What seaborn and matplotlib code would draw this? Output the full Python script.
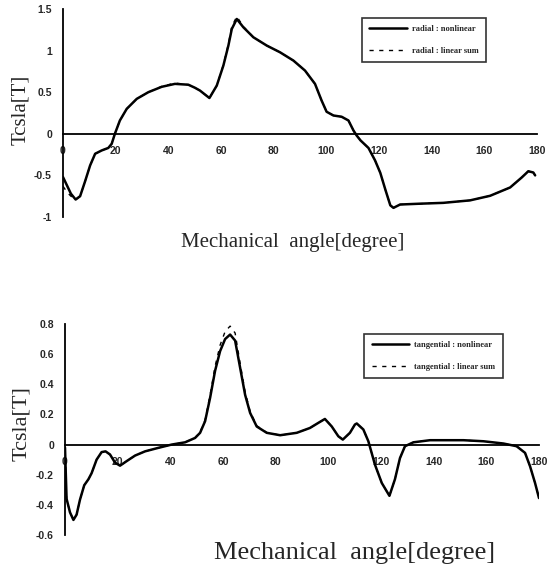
import numpy as np
import pandas as pd
import matplotlib
matplotlib.use("Agg")
import matplotlib.pyplot as plt
import seaborn as sns

# ---------------- data ----------------
radial_deg = [0, 1.5, 3.0, 4.8, 6.5, 8.4, 10.3, 12.2, 14.7, 17.2, 18.5, 19.7, 21.6, 24.2,
              28, 32.4, 37.5, 42.5, 47.6, 50, 52, 55.6, 58.4, 60.9, 62.8, 64.1, 66, 68.5,
              72.3, 77.4, 82.4, 87.5, 91.9, 95.7, 98.2, 100.1, 102.7, 105.8, 108.4, 110.3,
              111.5, 113, 116, 118.5, 120.5, 122.5, 124.3, 125.5, 128, 135.6, 144.4, 154.6,
              162.2, 169.8, 174.2, 176.7, 178.6, 179.3]
radial_nonlinear = [-0.52, -0.62, -0.72, -0.79, -0.75, -0.57, -0.38, -0.24, -0.20, -0.17, -0.12,
                    0.0, 0.16, 0.30, 0.42, 0.50, 0.565, 0.60, 0.59, 0.555, 0.52, 0.43, 0.58,
                    0.82, 1.06, 1.26, 1.38, 1.28, 1.16, 1.06, 0.98, 0.88, 0.76, 0.60, 0.40,
                    0.265, 0.22, 0.205, 0.16, 0.04, -0.02, -0.08, -0.17, -0.32, -0.47, -0.68,
                    -0.86, -0.89, -0.85, -0.84, -0.83, -0.80, -0.745, -0.645, -0.525, -0.45,
                    -0.465, -0.50]
radial_linear = [-0.63, -0.70, -0.75, -0.79, -0.75, -0.57, -0.38, -0.24, -0.20, -0.17, -0.12,
                 0.0, 0.16, 0.30, 0.42, 0.50, 0.57, 0.61, 0.59, 0.555, 0.52, 0.43, 0.58,
                 0.83, 1.08, 1.29, 1.41, 1.29, 1.16, 1.06, 0.98, 0.88, 0.76, 0.60, 0.40,
                 0.265, 0.22, 0.205, 0.16, 0.04, -0.02, -0.08, -0.17, -0.32, -0.47, -0.68,
                 -0.86, -0.89, -0.85, -0.84, -0.83, -0.80, -0.745, -0.645, -0.525, -0.45,
                 -0.465, -0.50]

tang_deg = [0, 0.6, 1.9, 3.2, 4.4, 5.7, 7.3, 8.9, 10.1, 12, 13.9, 15.4, 17.1, 19, 20.9, 23.4,
            26.6, 30.4, 35.4, 40.5, 45.6, 49.4, 51.3, 53.2, 55.1, 57, 58.9, 60.8, 62.7, 64.6,
            66.5, 68.4, 70.3, 72.8, 76.6, 81.7, 88, 93, 96.2, 98.7, 101.3, 103.8, 105.5,
            108.2, 110.1, 110.8, 113.3, 115.2, 117.7, 120.3, 123.2, 125.3, 127.2, 129.1,
            132.3, 138.6, 151.3, 158.9, 166.5, 171.5, 174.7, 176.6, 178.5, 180]
tang_nonlinear = [-0.02, -0.36, -0.45, -0.50, -0.465, -0.365, -0.27, -0.23, -0.19, -0.10, -0.05,
                  -0.045, -0.066, -0.12, -0.14, -0.11, -0.073, -0.045, -0.022, 0.0, 0.015,
                  0.044, 0.078, 0.155, 0.31, 0.49, 0.62, 0.70, 0.73, 0.69, 0.51, 0.33, 0.21,
                  0.12, 0.078, 0.062, 0.078, 0.11, 0.144, 0.17, 0.12, 0.055, 0.033, 0.078,
                  0.133, 0.14, 0.10, 0.022, -0.133, -0.255, -0.34, -0.23, -0.09, -0.011,
                  0.015, 0.029, 0.029, 0.022, 0.007, -0.011, -0.055, -0.144, -0.255, -0.355]
tang_linear = [-0.02, -0.36, -0.45, -0.50, -0.465, -0.365, -0.27, -0.23, -0.19, -0.10, -0.05,
               -0.045, -0.066, -0.12, -0.14, -0.11, -0.073, -0.045, -0.022, 0.0, 0.015,
               0.046, 0.082, 0.165, 0.33, 0.52, 0.66, 0.75, 0.786, 0.74, 0.54, 0.35, 0.22,
               0.125, 0.08, 0.062, 0.078, 0.11, 0.144, 0.17, 0.12, 0.055, 0.033, 0.078,
               0.133, 0.14, 0.10, 0.022, -0.133, -0.255, -0.34, -0.23, -0.09, -0.011,
               0.015, 0.029, 0.029, 0.022, 0.007, -0.011, -0.055, -0.144, -0.255, -0.355]

x_ticks = [0, 20, 40, 60, 80, 100, 120, 140, 160, 180]
top_yticks = [-1, -0.5, 0, 0.5, 1, 1.5]
top_ylabels = ["-1", "-0.5", "0", "0.5", "1", "1.5"]
bot_yticks = [-0.6, -0.4, -0.2, 0, 0.2, 0.4, 0.6, 0.8]
bot_ylabels = ["-0.6", "-0.4", "-0.2", "0", "0.2", "0.4", "0.6", "0.8"]
top_names = ["radial : nonlinear", "radial : linear sum"]
bot_names = ["tangential : nonlinear", "tangential : linear sum"]
x_title = "Mechanical  angle[degree]"
y_title = "Tcsla[T]"

# ---------------- plotting ----------------
sns.set_style("white")
plt.rcParams["font.family"] = ["Liberation Serif", "DejaVu Serif"]

W, H = 557, 569
fig = plt.figure(figsize=(W / 100, H / 100), dpi=100)

def px_axes(x0, x1, y_top, y_bot):
    return fig.add_axes([x0 / W, 1 - y_bot / H, (x1 - x0) / W, (y_bot - y_top) / H])

ax1 = px_axes(63, 537, 9, 217)
ax2 = px_axes(65, 539, 324, 535)

tick_font = dict(family="Liberation Sans", weight="bold", size=7.5)

def style(ax, yticks, ylabels, ylim):
    ax.set_xlim(0, 180)
    ax.set_ylim(*ylim)
    for s in ["top", "right"]:
        ax.spines[s].set_visible(False)
    ax.spines["bottom"].set_position(("data", 0))
    ax.spines["left"].set_bounds(ylim[0], ylim[1])
    for s in ["bottom", "left"]:
        ax.spines[s].set_color("black")
        ax.spines[s].set_linewidth(1.3)
    ax.set_xticks(x_ticks)
    ax.set_xticklabels([str(t) for t in x_ticks], fontdict=tick_font)
    ax.set_yticks(yticks)
    ax.set_yticklabels(ylabels, fontdict=tick_font)
    ax.tick_params(axis="both", direction="inout", length=6, width=1.2, color="black")
    ax.tick_params(axis="x", pad=6)
    ax.tick_params(axis="y", pad=5)
    ax.set_xlabel("")
    ax.set_ylabel("")
    ax.grid(False)

# top chart
df1 = pd.DataFrame({"deg": radial_deg, "nl": radial_nonlinear, "ls": radial_linear})
sns.lineplot(data=df1, x="deg", y="nl", ax=ax1, color="black", lw=1.8, sort=False,
             label=top_names[0])
sns.lineplot(data=df1, x="deg", y="ls", ax=ax1, color="black", lw=1.0, sort=False,
             linestyle=(0, (3, 4)), label=top_names[1])
style(ax1, top_yticks, top_ylabels, (-1, 1.5))
leg1 = ax1.legend(loc="center", bbox_to_anchor=((348 + 500) / 2 / W, 1 - 40 / H),
                  bbox_transform=fig.transFigure, frameon=True, fancybox=False,
                  edgecolor="black", handlelength=4.5, labelspacing=1.6,
                  borderpad=0.9, handletextpad=0.6,
                  prop=dict(family="Liberation Serif", size=6, weight="bold"))
leg1.get_frame().set_linewidth(1.2)

# bottom chart
df2 = pd.DataFrame({"deg": tang_deg, "nl": tang_nonlinear, "ls": tang_linear})
sns.lineplot(data=df2, x="deg", y="nl", ax=ax2, color="black", lw=1.8, sort=False,
             label=bot_names[0])
sns.lineplot(data=df2, x="deg", y="ls", ax=ax2, color="black", lw=1.0, sort=False,
             linestyle=(0, (3, 4)), label=bot_names[1])
style(ax2, bot_yticks, bot_ylabels, (-0.6, 0.8))
leg2 = ax2.legend(loc="center", bbox_to_anchor=((352 + 515) / 2 / W, 1 - 356 / H),
                  bbox_transform=fig.transFigure, frameon=True, fancybox=False,
                  edgecolor="black", handlelength=4.5, labelspacing=1.6,
                  borderpad=0.9, handletextpad=0.6,
                  prop=dict(family="Liberation Serif", size=6, weight="bold"))
leg2.get_frame().set_linewidth(1.2)

# axis titles as figure text
fig.text(293 / W, 1 - 243 / H, x_title, ha="center", va="center", fontsize=15,
         family="Liberation Serif")
fig.text(21 / W, 1 - 110 / H, y_title, ha="center", va="center", fontsize=15,
         rotation=90, family="Liberation Serif")
fig.text(355 / W, 1 - 553 / H, x_title, ha="center", va="center", fontsize=19,
         family="Liberation Serif")
fig.text(22 / W, 1 - 424 / H, y_title, ha="center", va="center", fontsize=16,
         rotation=90, family="Liberation Serif")

fig.savefig("out.png", dpi=100)
